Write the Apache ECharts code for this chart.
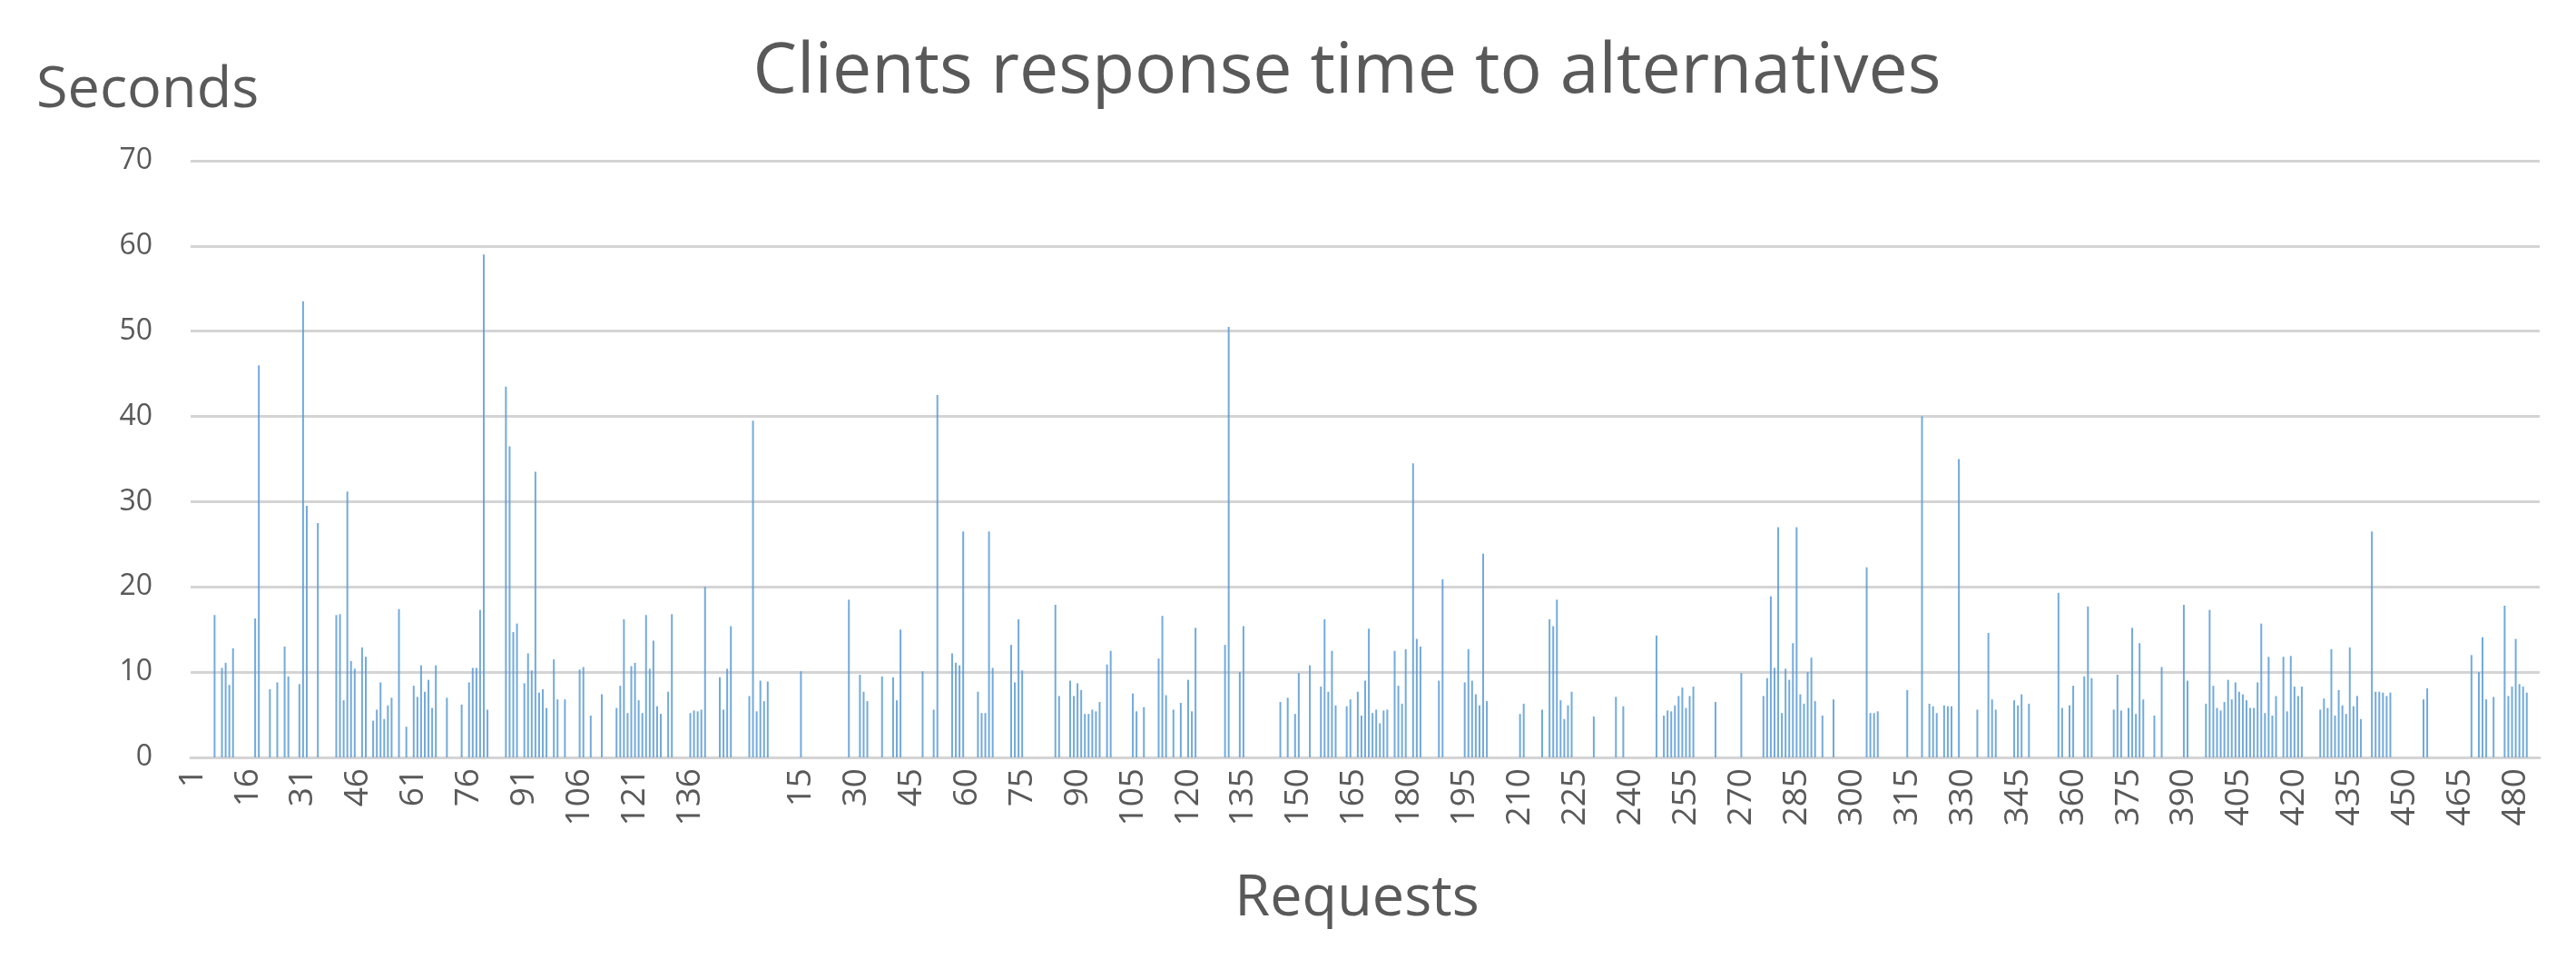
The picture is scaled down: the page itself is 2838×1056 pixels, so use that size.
<!DOCTYPE html>
<html><head><meta charset="utf-8">
<script src="https://cdn.jsdelivr.net/npm/echarts/dist/echarts.min.js"></script>
<style>html,body{margin:0;padding:0;background:#fff}#c{width:2838px;height:1056px}</style>
</head><body><div id="c"></div>
<script>
// Response times (seconds) — first run, requests 1..150
const valuesA = [
0,0,0,0,0,0,16.7,0,10.5,11.1,
8.5,12.8,0,0,0,0,0,16.3,46,0,
0,8.0,0,8.8,0,13.0,9.5,0,0,8.6,
53.5,29.5,0,0,27.5,0,0,0,0,16.7,
16.8,6.7,31.2,11.3,10.4,0,12.9,11.8,0,4.3,
5.6,8.8,4.5,6.1,7.0,0,17.4,0,3.6,0,
8.4,7.1,10.8,7.7,9.1,5.8,10.8,0,0,7.0,
0,0,0,6.2,0,8.8,10.5,10.5,17.3,59,
5.6,0,0,0,0,43.5,36.5,14.7,15.7,0,
8.7,12.2,10.2,33.5,7.6,8.0,5.8,0,11.5,6.8,
0,6.8,0,0,0,10.3,10.6,0,4.9,0,
0,7.4,0,0,0,5.8,8.4,16.2,5.2,10.7,
11.1,6.7,5.2,16.7,10.4,13.7,6.0,5.1,0,7.7,
16.8,0,0,0,0,5.2,5.5,5.4,5.6,20.0,
0,0,0,9.4,5.6,10.4,15.4,0,0,0
];
// Response times (seconds) — second run, requests 1..486
const valuesB = [
7.2,39.5,5.4,9.0,6.6,8.9,0,0,0,0,
0,0,0,0,10.1,0,0,0,0,0,
0,0,0,0,0,0,0,18.5,0,0,
9.7,7.7,6.6,0,0,0,9.5,0,0,9.4,
6.7,15.0,0,0,0,0,0,10.1,0,0,
5.6,42.5,0,0,0,12.2,11.1,10.8,26.5,0,
0,0,7.7,5.2,5.2,26.5,10.5,0,0,0,
0,13.2,8.8,16.2,10.2,0,0,0,0,0,
0,0,0,17.9,7.2,0,0,9.0,7.2,8.7,
7.9,5.1,5.1,5.6,5.4,6.5,0,10.9,12.5,0,
0,0,0,0,7.5,5.4,0,5.9,0,0,
0,11.6,16.6,7.3,0,5.6,0,6.4,0,9.1,
5.4,15.2,0,0,0,0,0,0,0,13.2,
50.5,0,0,10.0,15.4,0,0,0,0,0,
0,0,0,0,6.5,0,7.0,0,5.1,9.9,
0,0,10.8,0,0,8.3,16.2,7.7,12.5,6.1,
0,0,6.0,6.8,0,7.7,4.9,9.0,15.1,5.2,
5.6,4.0,5.5,5.6,0,12.5,8.4,6.3,12.7,0,
34.5,13.9,13.0,0,0,0,0,9.0,20.9,0,
0,0,0,0,8.8,12.7,9.0,7.4,6.1,23.9,
6.6,0,0,0,0,0,0,0,0,5.1,
6.3,0,0,0,0,5.6,0,16.2,15.4,18.5,
6.7,4.5,6.1,7.7,0,0,0,0,0,4.8,
0,0,0,0,0,7.1,0,6.0,0,0,
0,0,0,0,0,0,14.3,0,4.9,5.5,
5.4,6.1,7.2,8.2,5.8,7.2,8.3,0,0,0,
0,0,6.5,0,0,0,0,0,0,9.9,
0,0,0,0,0,7.2,9.3,18.9,10.5,27,
5.2,10.4,9.1,13.4,27,7.4,6.3,10.0,11.7,6.6,
0,4.9,0,0,6.8,0,0,0,0,0,
0,0,0,22.3,5.2,5.2,5.4,0,0,0,
0,0,0,0,7.9,0,0,0,40,0,
6.3,6.0,5.2,0,6.1,6.0,6.0,0,35,0,
0,0,0,5.6,0,0,14.6,6.8,5.6,0,
0,0,0,6.7,6.1,7.4,0,6.3,0,0,
0,0,0,0,0,19.3,5.8,0,6.1,8.4,
0,0,9.5,17.7,9.3,0,0,0,0,0,
5.6,9.7,5.5,0,5.8,15.2,5.1,13.4,6.8,0,
0,4.9,0,10.6,0,0,0,0,0,17.9,
9.0,0,0,0,0,6.3,17.3,8.4,5.8,5.5,
6.5,9.1,6.8,8.8,7.7,7.4,6.7,5.8,5.8,8.8,
15.7,5.2,11.8,4.9,7.2,0,11.8,5.4,11.9,8.3,
7.2,8.3,0,0,0,0,5.6,6.9,5.8,12.7,
4.9,7.9,6.1,5.1,12.9,6.0,7.2,4.5,0,0,
26.5,7.7,7.7,7.6,7.2,7.6,0,0,0,0,
0,0,0,0,6.8,8.1,0,0,0,0,
0,0,0,0,0,0,0,12.0,0,10.0,
14.1,6.8,0,7.1,0,0,17.8,7.2,8.3,13.9,
8.6,8.3,7.6,0,0,0
];
const separatorLabel = [''];
const labelsA = valuesA.map((v, i) => String(i + 1));
const labelsB = valuesB.map((v, i) => String(i + 1));
const categories = labelsA.concat(separatorLabel, labelsB);
const values = valuesA.concat([0], valuesB);

const titleText = 'Clients response time to alternatives';
const yName = 'Seconds';
const xName = 'Requests';

const FONT = '"Open Sans", "Noto Sans", sans-serif';
const GREY = '#595959';

const chart = echarts.init(document.getElementById('c'), null, {renderer: 'canvas'});
chart.setOption({
  animation: false,
  backgroundColor: '#ffffff',
  grid: {left: 210, right: 40, top: 177, bottom: 222, containLabel: false},
  xAxis: {
    type: 'category',
    data: categories,
    boundaryGap: true,
    axisLine: {show: true, lineStyle: {color: '#d4d4d4', width: 3}},
    axisTick: {show: false},
    axisLabel: {interval: 14, rotate: 90, fontSize: 37, color: GREY, fontFamily: FONT, margin: 12},
    splitLine: {show: false}
  },
  yAxis: {
    type: 'value',
    min: 0, max: 70, interval: 10,
    axisLine: {show: false},
    axisTick: {show: false},
    axisLabel: {fontSize: 32, color: GREY, fontFamily: FONT, margin: 42},
    splitLine: {show: true, lineStyle: {color: '#d4d4d4', width: 3}}
  },
  series: [{
    type: 'bar',
    data: values,
    barWidth: 2,
    itemStyle: {color: '#5b9bd5', opacity: 0.85}
  }],
  graphic: [
    {type: 'text', x: 1484, y: 80, style: {text: titleText, fontSize: 77, fontFamily: FONT, fill: GREY, align: 'center', verticalAlign: 'middle'}},
    {type: 'text', x: 40, y: 100, style: {text: yName, fontSize: 63, fontFamily: FONT, fill: GREY, align: 'left', verticalAlign: 'middle'}},
    {type: 'text', x: 1495, y: 990, style: {text: xName, fontSize: 63, fontFamily: FONT, fill: GREY, align: 'center', verticalAlign: 'middle'}}
  ]
});
</script>
</body></html>
